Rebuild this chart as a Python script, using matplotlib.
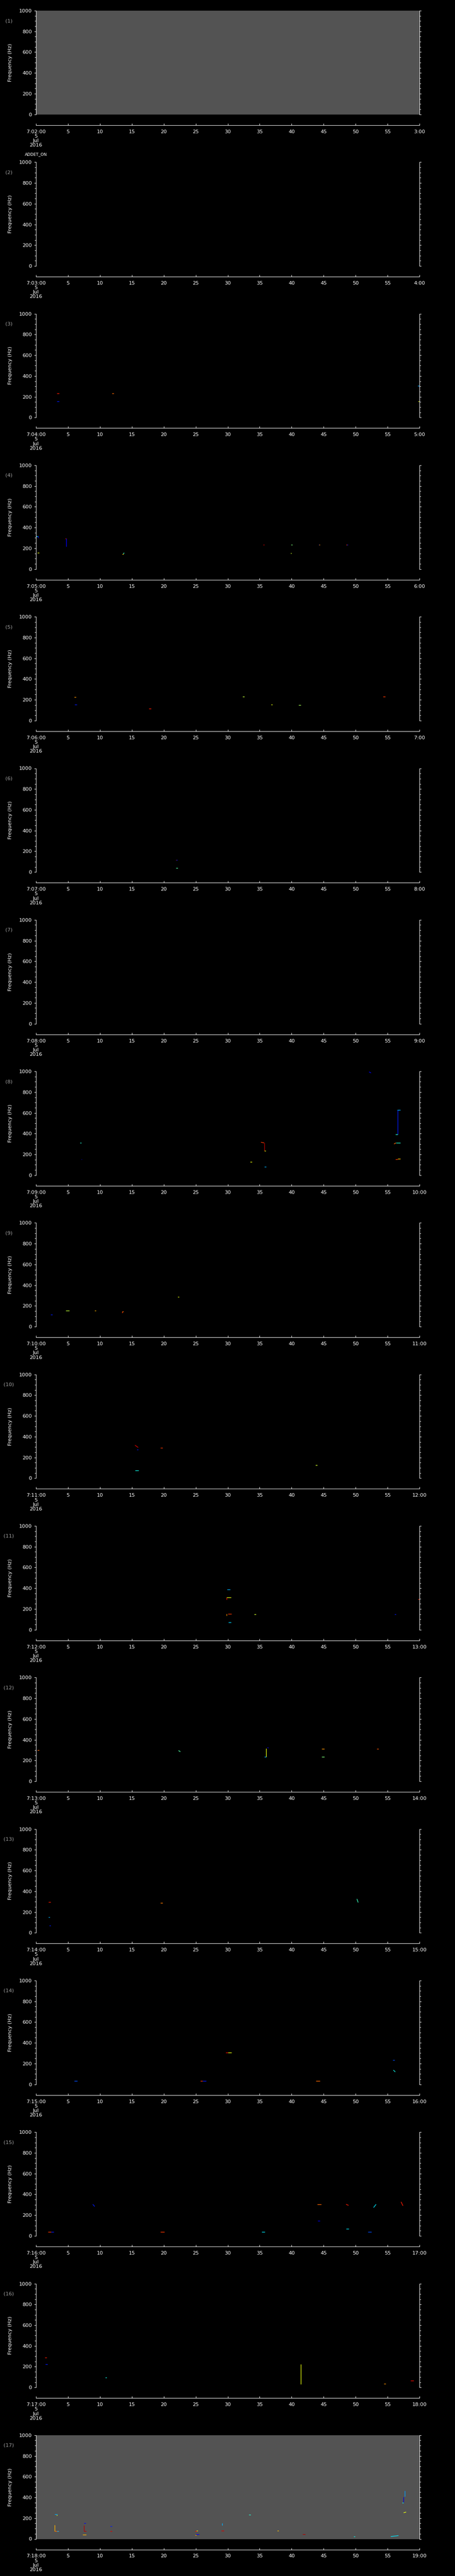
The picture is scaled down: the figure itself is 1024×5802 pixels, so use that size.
import matplotlib
matplotlib.use("Agg")
import matplotlib.pyplot as plt
from matplotlib.collections import LineCollection
from matplotlib.colors import Normalize

# one minute per panel, 5 Jul 2016, starting 07:02:00
start_minutes = list(range(2, 19))
panel_ids = list(range(1, 18))
gray_panels = [1, 17]
time_ticks = [0, 5, 10, 15, 20, 25, 30, 35, 40, 45, 50, 55, 60]
freq_major = [0, 200, 400, 600, 800, 1000]

# marks per panel: (t_start s, t_end s, f_start Hz, f_end Hz, intensity 0..1)
marks_03 = [(3.3, 3.6, 233, 233, 0.88), (3.3, 3.6, 154, 154, 0.15),
            (11.9, 12.15, 233, 233, 0.8), (59.7, 60, 307, 307, 0.3),
            (60, 60, 307, 290, 0.12), (59.8, 60, 156, 156, 0.63)]
marks_04 = [(0, 0.35, 316, 316, 0.35), (0.35, 0.4, 316, 299, 0.12),
            (0.2, 0.5, 158, 158, 0.63), (4.6, 4.76, 294, 294, 0.88),
            (4.76, 4.76, 294, 215, 0.12), (13.5, 13.7, 145, 145, 0.7),
            (13.7, 13.8, 145, 157, 0.4), (35.5, 35.75, 235, 235, 0.95),
            (39.9, 40.1, 235, 235, 0.5), (39.8, 40.0, 153, 153, 0.6),
            (44.2, 44.3, 235, 235, 0.15), (44.3, 44.4, 235, 235, 0.75),
            (48.5, 48.65, 235, 235, 0.85), (48.65, 48.8, 235, 235, 0.15)]
marks_05 = [(6.0, 6.3, 226, 226, 0.75), (6.1, 6.4, 152, 152, 0.15),
            (17.7, 18.0, 117, 117, 0.88), (32.3, 32.6, 229, 229, 0.58),
            (36.8, 37.0, 152, 152, 0.63), (41.1, 41.4, 148, 148, 0.55),
            (54.3, 54.6, 231, 231, 0.85)]
marks_06 = [(21.9, 22.0, 115, 115, 0.88), (22.0, 22.1, 115, 115, 0.15),
            (21.9, 22.2, 40, 40, 0.45)]
marks_08 = [(52.1, 52.4, 995, 985, 0.12), (6.9, 7.1, 311, 311, 0.4),
            (7.1, 7.2, 153, 153, 0.12), (35.2, 35.7, 317, 311, 0.85),
            (35.7, 35.7, 311, 234, 0.95), (35.7, 35.95, 234, 234, 0.63),
            (33.5, 33.8, 126, 126, 0.63), (35.7, 36.0, 79, 79, 0.3),
            (56.6, 56.6, 628, 392, 0.15), (56.5, 57.0, 628, 628, 0.3),
            (56.2, 56.6, 392, 392, 0.4), (56.0, 56.3, 300, 311, 0.8),
            (56.3, 57.0, 311, 311, 0.4), (56.2, 56.6, 155, 155, 0.85),
            (56.6, 57.0, 157, 157, 0.7)]
marks_09 = [(2.3, 2.6, 118, 118, 0.15), (4.7, 5.2, 154, 154, 0.58),
            (9.2, 9.4, 154, 154, 0.72), (13.5, 13.5, 148, 131, 0.85),
            (13.5, 13.7, 148, 148, 0.8), (22.2, 22.4, 288, 288, 0.63)]
marks_10 = [(15.5, 16.0, 318, 296, 0.92), (15.8, 16.0, 277, 277, 0.15),
            (19.5, 19.8, 292, 292, 0.85), (15.5, 16.1, 75, 75, 0.37),
            (43.7, 44.0, 125, 125, 0.6)]
marks_11 = [(29.9, 30.4, 390, 390, 0.3), (29.8, 29.8, 311, 288, 0.9),
            (29.8, 30.5, 311, 311, 0.63), (29.85, 29.85, 153, 137, 0.75),
            (30.0, 30.6, 153, 153, 0.85), (30.1, 30.5, 72, 72, 0.33),
            (34.1, 34.4, 149, 149, 0.6), (56.1, 56.3, 147, 147, 0.15),
            (59.8, 60.0, 294, 294, 0.85)]
marks_12 = [(0.2, 0.5, 300, 300, 0.8), (22.3, 22.6, 296, 285, 0.45),
            (36.0, 36.0, 318, 235, 0.63), (35.7, 36.0, 235, 235, 0.3),
            (36.2, 36.4, 326, 320, 0.08), (44.7, 45.1, 314, 314, 0.75),
            (44.7, 45.1, 235, 235, 0.5), (53.3, 53.6, 312, 312, 0.82)]
marks_13 = [(1.95, 2.3, 295, 295, 0.88), (1.95, 2.2, 153, 153, 0.3),
            (2.1, 2.3, 71, 71, 0.15), (19.5, 19.8, 289, 289, 0.78),
            (50.2, 50.4, 326, 292, 0.42)]
marks_14 = [(29.7, 30.0, 307, 307, 0.9), (30.0, 30.6, 307, 307, 0.63),
            (6.0, 6.5, 34, 34, 0.2), (25.7, 26.1, 34, 34, 0.85),
            (26.1, 26.6, 34, 34, 0.15), (43.8, 44.4, 34, 34, 0.8),
            (55.8, 56.1, 232, 232, 0.2), (55.9, 56.2, 137, 120, 0.37)]
marks_15 = [(1.9, 2.4, 38, 38, 0.85), (2.4, 2.8, 38, 38, 0.15),
            (19.5, 20.1, 38, 38, 0.85), (8.9, 9.2, 304, 283, 0.15),
            (35.3, 35.8, 38, 38, 0.35), (44.0, 44.6, 304, 304, 0.8),
            (44.1, 44.4, 147, 147, 0.12), (48.5, 48.9, 304, 294, 0.88),
            (48.5, 48.9, 68, 68, 0.35), (51.9, 52.5, 38, 38, 0.2),
            (52.8, 53.2, 273, 304, 0.35), (57.1, 57.4, 328, 290, 0.88)]
marks_16 = [(1.4, 1.7, 287, 287, 0.88), (1.5, 1.8, 222, 222, 0.15),
            (10.85, 11.1, 96, 96, 0.37), (41.4, 41.4, 225, 31, 0.63),
            (54.4, 54.7, 34, 34, 0.75), (58.6, 59.1, 67, 67, 0.9)]
marks_17 = [(2.94, 3.35, 238, 238, 0.3), (3.2, 3.35, 230, 230, 0.63),
            (2.96, 2.96, 133, 76, 0.72), (2.96, 3.54, 76, 76, 0.8),
            (3.3, 3.54, 76, 76, 0.3), (7.5, 7.5, 130, 76, 0.95),
            (7.5, 7.9, 76, 76, 0.95), (7.5, 7.8, 153, 153, 0.12),
            (7.3, 7.9, 40, 40, 0.72), (11.6, 11.9, 120, 120, 0.15),
            (11.6, 11.9, 76, 76, 0.92), (24.9, 25.2, 76, 76, 0.9),
            (25.1, 25.3, 79, 79, 0.63), (25.0, 25.5, 44, 44, 0.12),
            (24.9, 25.1, 37, 37, 0.75), (29.1, 29.1, 153, 130, 0.3),
            (29.0, 29.4, 79, 79, 0.92), (33.3, 33.6, 232, 232, 0.4),
            (37.75, 37.98, 79, 79, 0.7), (41.7, 42.1, 44, 44, 0.95),
            (49.7, 49.9, 23, 23, 0.37), (55.5, 56.7, 23, 32, 0.35),
            (57.5, 57.5, 405, 351, 0.08), (57.7, 57.7, 463, 408, 0.28),
            (57.3, 57.5, 348, 348, 0.37), (57.5, 57.9, 252, 259, 0.63)]

panel_marks = {3: marks_03, 4: marks_04, 5: marks_05, 6: marks_06,
               8: marks_08, 9: marks_09, 10: marks_10, 11: marks_11,
               12: marks_12, 13: marks_13, 14: marks_14, 15: marks_15,
               16: marks_16, 17: marks_17}

W, H = 1024, 5802
PT = 0.72  # points per pixel at dpi 100
FS = 8.2

plt.rcParams['font.family'] = ['DejaVu Sans']
fig = plt.figure(figsize=(W / 100, H / 100), dpi=100, facecolor='black')

left, width, height, pitch = 80.7, 863.6, 233.7, 341.3
norm = Normalize(0, 1)

for i, k in enumerate(panel_ids):
    top = 24 + i * pitch
    ax = fig.add_axes([left / W, 1 - (top + height) / H, width / W, height / H])
    ax.set_facecolor('#535353' if k in gray_panels else 'black')
    ax.set_xlim(0, 60)
    ax.set_ylim(0, 1000)

    m = panel_marks.get(k, [])
    if m:
        segs = [[(t0, f0), (t1, f1)] for t0, t1, f0, f1, v in m]
        lc = LineCollection(segs, cmap='jet', norm=norm, linewidths=1.0,
                            capstyle='butt')
        lc.set_array([v for *_, v in m])
        ax.add_collection(lc)

    for s in ['left', 'right', 'bottom']:
        ax.spines[s].set_color('white')
        ax.spines[s].set_linewidth(PT)
    ax.spines['top'].set_visible(False)
    ax.spines['bottom'].set_position(('outward', 24 * PT))

    ax.set_yticks(freq_major)
    ax.set_yticks(range(0, 1001, 50), minor=True)
    ax.tick_params(axis='y', which='both', direction='out', left=True,
                   right=True, colors='white', width=PT, labelsize=FS,
                   pad=3.4)
    ax.tick_params(axis='y', which='major', length=4.3 * PT)
    ax.tick_params(axis='y', which='minor', length=2.8 * PT)

    minute = start_minutes[i]
    labels = [f"7:{minute:02d}:00\n5\nJul\n2016"] + \
        [str(t) for t in time_ticks[1:-1]] + [f"{minute + 1}:00"]
    ax.set_xticks(time_ticks)
    ax.set_xticklabels(labels, linespacing=1.02)
    ax.tick_params(axis='x', direction='in', length=4 * PT, width=PT,
                   colors='white', labelsize=FS, pad=7.2)

    fig.text(20 / W, 1 - (top + 23) / H, f"({k})", color='#a0a0a0',
             fontsize=FS, ha='center', va='center')
    fig.text(23 / W, 1 - (top + height / 2) / H, "Frequency (Hz)",
             color='white', fontsize=FS, rotation=90, ha='center',
             va='center')
    if k == 1:
        fig.text(left / W, 1 - (top + 324) / H, "ADDET_ON", color='white',
                 fontsize=6.6, ha='center', va='center')

fig.savefig('out.png', dpi=100, facecolor='black')
